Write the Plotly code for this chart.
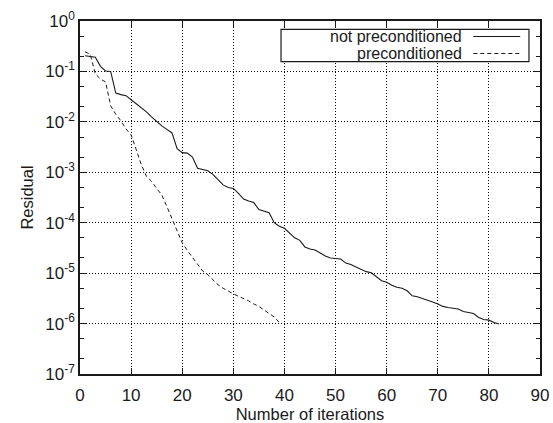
import plotly.graph_objects as go

# ---- data ----
iters_not_pre = list(range(1, 83))
resid_not_pre = [
    0.204, 0.200, 0.191, 0.126, 0.102, 0.100, 0.0372, 0.0347, 0.0331, 0.0275,
    0.0229, 0.0191, 0.0158, 0.0126, 0.0100, 0.00832, 0.00708, 0.00603, 0.00295, 0.00245,
    0.00240, 0.00200, 0.00120, 0.00112, 0.00107, 9.12e-4, 7.08e-4, 5.62e-4, 5.01e-4, 4.79e-4,
    3.80e-4, 2.95e-4, 2.69e-4, 2.51e-4, 1.82e-4, 1.70e-4, 1.58e-4, 1.00e-4, 8.51e-5, 7.76e-5,
    6.31e-5, 5.01e-5, 4.47e-5, 3.31e-5, 3.02e-5, 2.88e-5, 2.51e-5, 2.19e-5, 2.00e-5, 1.95e-5,
    1.91e-5, 1.58e-5, 1.48e-5, 1.32e-5, 1.17e-5, 1.07e-5, 1.02e-5, 8.51e-6, 7.08e-6, 6.61e-6,
    5.75e-6, 5.25e-6, 5.01e-6, 4.47e-6, 3.55e-6, 3.39e-6, 3.16e-6, 2.88e-6, 2.69e-6, 2.45e-6,
    2.19e-6, 2.09e-6, 2.04e-6, 1.95e-6, 1.74e-6, 1.66e-6, 1.58e-6, 1.32e-6, 1.20e-6, 1.17e-6,
    1.05e-6, 9.8e-7,
]

iters_pre = list(range(1, 40))
resid_pre = [
    0.245, 0.219, 0.0891, 0.0708, 0.0617, 0.0209, 0.0141, 0.0105, 0.00724, 0.00550,
    0.00282, 0.00141, 8.32e-4, 6.61e-4, 4.79e-4, 3.55e-4, 2.09e-4, 1.20e-4, 6.76e-5, 3.98e-5,
    2.82e-5, 2.09e-5, 1.51e-5, 1.10e-5, 9.33e-6, 7.24e-6, 5.89e-6, 5.01e-6, 4.37e-6, 3.89e-6,
    3.47e-6, 3.16e-6, 2.82e-6, 2.45e-6, 2.19e-6, 1.86e-6, 1.58e-6, 1.35e-6, 1.05e-6,
]

x_ticks = [0, 10, 20, 30, 40, 50, 60, 70, 80, 90]
y_exps = [0, -1, -2, -3, -4, -5, -6, -7]
y_tickvals = [10.0 ** e for e in y_exps]
y_ticktext = ["10<sup>%d</sup>" % e for e in y_exps]
y_minor = [m * 10.0 ** e for e in range(-7, 0) for m in (2, 5)]

series_names = ["not preconditioned", "preconditioned"]

FONT = "Liberation Sans, Arial, Helvetica, sans-serif"
INK = "#1a1a1a"

fig = go.Figure()
fig.add_trace(go.Scatter(x=iters_not_pre, y=resid_not_pre, mode="lines",
                         name=series_names[0],
                         line=dict(color=INK, width=1.1, dash="solid"),
                         showlegend=False))
fig.add_trace(go.Scatter(x=iters_pre, y=resid_pre, mode="lines",
                         name=series_names[1],
                         line=dict(color=INK, width=1.0, dash="4px,3px"),
                         showlegend=False))

axis_common = dict(
    showline=True, linecolor=INK, linewidth=1.6, mirror="allticks",
    ticks="inside", ticklen=6, tickcolor=INK, tickwidth=1,
    showgrid=True, gridcolor="#000000", gridwidth=1, griddash="1px,2px",
    zeroline=False, automargin=False,
    tickfont=dict(family=FONT, size=17, color=INK),
)

fig.update_xaxes(
    range=[0, 90], tickmode="array", tickvals=x_ticks,
    ticklabelstandoff=5,
    title=dict(text="Number of iterations", font=dict(family=FONT, size=16.5, color=INK), standoff=6),
    **axis_common,
)
fig.update_yaxes(
    type="log", range=[-7, 0], tickmode="array",
    tickvals=y_tickvals, ticktext=y_ticktext,
    minor=dict(tickmode="array", tickvals=y_minor, ticks="inside", ticklen=4,
               tickcolor=INK, showgrid=False),
    title=dict(text="Residual", font=dict(family=FONT, size=16.5, color=INK), standoff=8),
    **axis_common,
)

# manual legend (text right, line sample on the right, like the reference)
fig.add_shape(type="rect", xref="paper", yref="paper",
              x0=0.437, x1=0.976, y0=0.885, y1=0.9765,
              line=dict(color=INK, width=1.2), fillcolor="white", layer="above")
leg_y = [0.956, 0.908]
leg_dash = ["solid", "4px,3px"]
for name, ly, dsh in zip(series_names, leg_y, leg_dash):
    fig.add_annotation(xref="paper", yref="paper", x=0.834, y=ly, text=name,
                       showarrow=False, xanchor="right", yanchor="middle",
                       font=dict(family=FONT, size=16, color=INK))
    fig.add_shape(type="line", xref="paper", yref="paper",
                  x0=0.855, x1=0.957, y0=ly, y1=ly,
                  line=dict(color=INK, width=1.1, dash=dsh), layer="above")

fig.update_layout(
    width=553, height=423,
    margin=dict(l=80, r=13, t=21, b=49),
    paper_bgcolor="white", plot_bgcolor="white",
    font=dict(family=FONT, color=INK),
    showlegend=False,
)

fig.write_html("out.html")
